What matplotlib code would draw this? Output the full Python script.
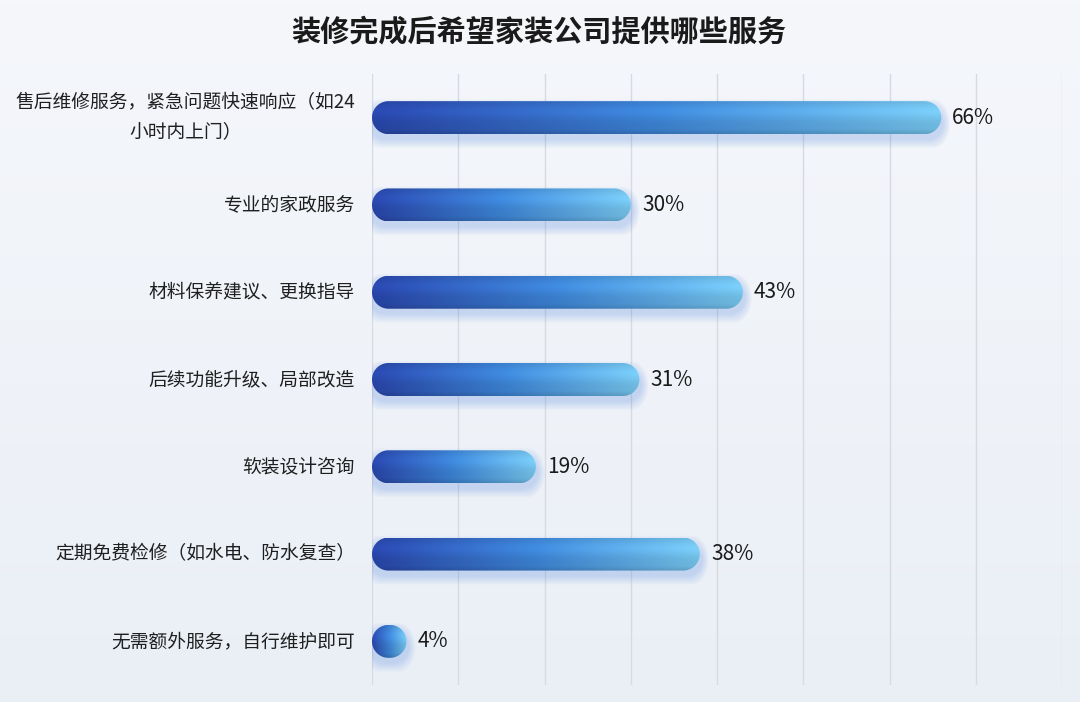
import numpy as np
import matplotlib.pyplot as plt
from matplotlib.path import Path
from matplotlib.patches import PathPatch
from matplotlib.colors import to_rgb

plt.rcParams['font.family'] = ['Noto Sans CJK SC', 'DejaVu Sans']

# Data
title = '装修完成后希望家装公司提供哪些服务'
categories = [
    '售后维修服务，紧急问题快速响应（如24\n小时内上门）',
    '专业的家政服务',
    '材料保养建议、更换指导',
    '后续功能升级、局部改造',
    '软装设计咨询',
    '定期免费检修（如水电、防水复查）',
    '无需额外服务，自行维护即可',
]
values = [66, 30, 43, 31, 19, 38, 4]

W, H, DPI = 1080, 702, 100
fig = plt.figure(figsize=(W / DPI, H / DPI), dpi=DPI)

# background gradient
bg = fig.add_axes([0, 0, 1, 1], zorder=-10)
top_c = np.array(to_rgb('#f5f7fb'))
bot_c = np.array(to_rgb('#eaeff6'))
t = np.linspace(0, 1, 200)[:, None, None]
bg.imshow(top_c * (1 - t) + bot_c * t, aspect='auto', extent=[0, 1, 0, 1])
bg.axis('off')

# main axes, pixel placement
left_px, right_px, top_px, bot_px = 372, 1062, 74, 685
ax = fig.add_axes([left_px / W, 1 - bot_px / H, (right_px - left_px) / W, (bot_px - top_px) / H])
ax.set_facecolor('none')
xmax = 80
n = len(values)
ax.set_xlim(0, xmax)
ax.set_ylim(n - 0.5, -0.5)
for s in ax.spines.values():
    s.set_visible(False)
ax.set_xticks([])
ax.set_yticks([])
for gx in range(0, xmax + 1, 10):
    ax.axvline(gx, color='#d6dae1', lw=1, zorder=0)

xs = (right_px - left_px) / xmax       # px per x unit
ys = (bot_px - top_px) / n             # px per y unit
bar_px = 33
hh = bar_px / 2 / ys                   # half height in y units
rx = bar_px / 2 / xs                   # cap radius in x units


def capsule(x0, x1, yc, hh, rx):
    rx = min(rx, (x1 - x0) / 2)
    a1 = np.linspace(-np.pi / 2, np.pi / 2, 40)
    a2 = np.linspace(np.pi / 2, 3 * np.pi / 2, 40)
    right = np.c_[x1 - rx + rx * np.cos(a1), yc + hh * np.sin(a1)]
    left = np.c_[x0 + rx + rx * np.cos(a2), yc + hh * np.sin(a2)]
    pts = np.vstack([right, left, right[:1]])
    return Path(pts, closed=True)


c_left = np.array(to_rgb('#2a48b0'))
c_mid = np.array(to_rgb('#3f8ade'))
c_right = np.array(to_rgb('#7acdf6'))

for i, v in enumerate(values):
    # soft blue glow under the bar
    for k in range(7):
        gp = capsule(-0.3 - k * 0.12, v + 0.3 + k * 0.12, i + 6 / ys, hh + k * 1.3 / ys, rx)
        ax.add_patch(PathPatch(gp, facecolor='#5b8fe0', edgecolor='none', alpha=0.045, zorder=1))

    path = capsule(0, v, i, hh, rx)
    patch = PathPatch(path, facecolor='none', edgecolor='none', zorder=2)
    ax.add_patch(patch)

    u = np.linspace(0, 1, 300)[None, :, None]
    hor = np.where(u < 0.5, c_left + (c_mid - c_left) * (u / 0.5),
                   c_mid + (c_right - c_mid) * ((u - 0.5) / 0.5))
    vv = np.linspace(0, 1, 60)[:, None, None]
    shade = 0.90 + 0.12 * np.exp(-((vv - 0.3) / 0.25) ** 2) - 0.10 * (vv > 0.85) * (vv - 0.85) / 0.15
    img = np.clip(hor * shade, 0, 1)
    im = ax.imshow(img, extent=[0, v, i + hh, i - hh], aspect='auto',
                   interpolation='bilinear', zorder=3)
    im.set_clip_path(patch)

    ax.annotate(f'{v}%', xy=(v, i), xytext=(8, 0), textcoords='offset points',
                ha='left', va='center', fontsize=15, color='#1a1a1a')

    ax.text(-17 / (right_px - left_px), i, categories[i], transform=ax.get_yaxis_transform(),
            ha='right', va='center', multialignment='center', fontsize=13.5,
            color='#1f1f1f', linespacing=1.5)

fig.text(0.499, 1 - 31 / H, title, ha='center', va='center', fontsize=21,
         fontweight='bold', color='#1a1a1a')

fig.savefig('out.png', dpi=DPI)
